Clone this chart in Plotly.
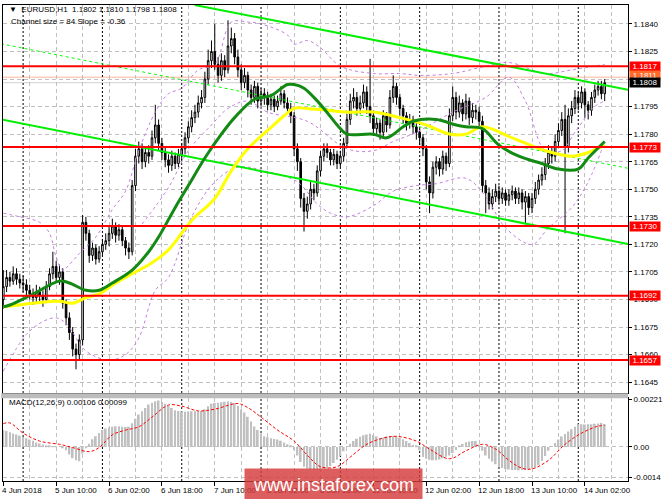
import plotly.graph_objects as go

# EURUSD H1, 4 Jun 2018 18:00 .. 14 Jun 2018 08:00, one entry per bar
opens = [1.1690, 1.1697, 1.1702, 1.1700, 1.1704, 1.1701, 1.1699, 1.1698, 1.1695, 1.1693,
         1.1691, 1.1694, 1.1692, 1.1690, 1.1697, 1.1704, 1.1708, 1.1702, 1.1705, 1.1688,
         1.1680, 1.1672, 1.1663, 1.1660, 1.1668, 1.1732, 1.1726, 1.1714, 1.1718, 1.1712,
         1.1716, 1.1720, 1.1722, 1.1726, 1.1730, 1.1725, 1.1728, 1.1722, 1.1718, 1.1716,
         1.1752, 1.1768, 1.1772, 1.1765, 1.1770, 1.1768, 1.1778, 1.1785, 1.1775, 1.1770,
         1.1766, 1.1763, 1.1768, 1.1764, 1.1769, 1.1772, 1.1778, 1.1784, 1.1789, 1.1792,
         1.1797, 1.1800, 1.1810, 1.1820, 1.1825, 1.1818, 1.1812, 1.1820, 1.1815, 1.1828,
         1.1832, 1.1822, 1.1815, 1.1808, 1.1812, 1.1804, 1.1800, 1.1806, 1.1798, 1.1802,
         1.1800, 1.1796, 1.1799, 1.1795, 1.1798, 1.1802, 1.1797, 1.1794, 1.1790, 1.1772,
         1.1765, 1.1745, 1.1738, 1.1742, 1.1750, 1.1748, 1.1760, 1.1768, 1.1772, 1.1770,
         1.1766, 1.1769, 1.1764, 1.1768, 1.1775, 1.1788, 1.1798, 1.1800, 1.1794, 1.1797,
         1.1803, 1.1795, 1.1790, 1.1783, 1.1786, 1.1781, 1.1790, 1.1785, 1.1800, 1.1806,
         1.1800, 1.1794, 1.1790, 1.1786, 1.1788, 1.1784, 1.1781, 1.1778, 1.1772, 1.1754,
         1.1748, 1.1762, 1.1765, 1.1761, 1.1768, 1.1764, 1.1790, 1.1800, 1.1792, 1.1797,
         1.1791, 1.1798, 1.1789, 1.1793, 1.1792, 1.1787, 1.1752, 1.1748, 1.1742, 1.1746,
         1.1749, 1.1745, 1.1748, 1.1744, 1.1747, 1.1749, 1.1745, 1.1748, 1.1743, 1.1746,
         1.1740, 1.1745, 1.1750, 1.1755, 1.1758, 1.1764, 1.1770, 1.1768, 1.1776, 1.1782,
         1.1788, 1.1773, 1.1790, 1.1794, 1.1800, 1.1797, 1.1803, 1.1796, 1.1793, 1.1800,
         1.1804, 1.1806, 1.1802]
highs = [1.1706, 1.1706, 1.1705, 1.1708, 1.1707, 1.1704, 1.1703, 1.1701, 1.1698, 1.1696,
         1.1698, 1.1697, 1.1695, 1.1700, 1.1707, 1.1716, 1.1711, 1.1709, 1.1707, 1.1690,
         1.1683, 1.1675, 1.1666, 1.1671, 1.1736, 1.1735, 1.1728, 1.1721, 1.1720, 1.1719,
         1.1723, 1.1726, 1.1730, 1.1734, 1.1732, 1.1731, 1.1730, 1.1724, 1.1721, 1.1755,
         1.1772, 1.1776, 1.1775, 1.1773, 1.1774, 1.1782, 1.1796, 1.1788, 1.1778, 1.1773,
         1.1769, 1.1771, 1.1770, 1.1772, 1.1775, 1.1781, 1.1787, 1.1793, 1.1796, 1.1801,
         1.1804, 1.1814, 1.1826, 1.1831, 1.1840, 1.1822, 1.1824, 1.1823, 1.1842, 1.1838,
         1.1835, 1.1826, 1.1818, 1.1816, 1.1814, 1.1807, 1.1809, 1.1808, 1.1805, 1.1805,
         1.1803, 1.1802, 1.1801, 1.1801, 1.1806, 1.1804, 1.1800, 1.1797, 1.1792, 1.1775,
         1.1767, 1.1748, 1.1746, 1.1754, 1.1753, 1.1763, 1.1771, 1.1775, 1.1775, 1.1772,
         1.1772, 1.1771, 1.1771, 1.1778, 1.1791, 1.1802, 1.1805, 1.1803, 1.1801, 1.1807,
         1.1806, 1.1821, 1.1793, 1.1789, 1.1788, 1.1793, 1.1792, 1.1804, 1.1812, 1.1808,
         1.1802, 1.1796, 1.1792, 1.1791, 1.1790, 1.1786, 1.1783, 1.1780, 1.1774, 1.1757,
         1.1765, 1.1768, 1.1767, 1.1771, 1.1770, 1.1794, 1.1806, 1.1803, 1.1801, 1.1799,
         1.1802, 1.1800, 1.1797, 1.1796, 1.1795, 1.1790, 1.1755, 1.1751, 1.1750, 1.1753,
         1.1752, 1.1751, 1.1750, 1.1750, 1.1752, 1.1751, 1.1751, 1.1750, 1.1749, 1.1748,
         1.1748, 1.1754, 1.1758, 1.1762, 1.1767, 1.1774, 1.1773, 1.1780, 1.1786, 1.1792,
         1.1796, 1.1794, 1.1798, 1.1804, 1.1803, 1.1806, 1.1805, 1.1798, 1.1803, 1.1807,
         1.1809, 1.1809, 1.1810]
lows = [1.1685, 1.1694, 1.1697, 1.1698, 1.1698, 1.1696, 1.1694, 1.1692, 1.1690, 1.1687,
        1.1688, 1.1689, 1.1686, 1.1688, 1.1695, 1.1701, 1.1699, 1.1698, 1.1685, 1.1676,
        1.1668, 1.1659, 1.1652, 1.1657, 1.1665, 1.1722, 1.1710, 1.1711, 1.1709, 1.1710,
        1.1714, 1.1717, 1.1719, 1.1723, 1.1721, 1.1722, 1.1719, 1.1714, 1.1712, 1.1714,
        1.1749, 1.1764, 1.1761, 1.1762, 1.1764, 1.1766, 1.1775, 1.1771, 1.1766, 1.1762,
        1.1759, 1.1760, 1.1761, 1.1762, 1.1766, 1.1769, 1.1775, 1.1781, 1.1786, 1.1789,
        1.1794, 1.1797, 1.1807, 1.1816, 1.1815, 1.1808, 1.1809, 1.1811, 1.1813, 1.1824,
        1.1818, 1.1811, 1.1804, 1.1805, 1.1800, 1.1796, 1.1797, 1.1794, 1.1795, 1.1796,
        1.1793, 1.1793, 1.1792, 1.1793, 1.1796, 1.1794, 1.1791, 1.1786, 1.1768, 1.1760,
        1.1740, 1.1727, 1.1734, 1.1739, 1.1744, 1.1746, 1.1757, 1.1765, 1.1767, 1.1763,
        1.1763, 1.1761, 1.1762, 1.1765, 1.1773, 1.1785, 1.1794, 1.1790, 1.1791, 1.1794,
        1.1791, 1.1786, 1.1779, 1.1780, 1.1777, 1.1778, 1.1781, 1.1783, 1.1797, 1.1796,
        1.1790, 1.1786, 1.1782, 1.1783, 1.1780, 1.1777, 1.1774, 1.1768, 1.1750, 1.1737,
        1.1745, 1.1758, 1.1757, 1.1758, 1.1760, 1.1762, 1.1787, 1.1788, 1.1789, 1.1787,
        1.1788, 1.1785, 1.1786, 1.1788, 1.1783, 1.1748, 1.1737, 1.1739, 1.1739, 1.1743,
        1.1742, 1.1742, 1.1741, 1.1741, 1.1744, 1.1742, 1.1742, 1.1739, 1.1731, 1.1736,
        1.1737, 1.1742, 1.1747, 1.1752, 1.1755, 1.1761, 1.1764, 1.1765, 1.1773, 1.1779,
        1.1726, 1.1770, 1.1786, 1.1791, 1.1793, 1.1794, 1.1789, 1.1788, 1.1790, 1.1797,
        1.1801, 1.1799, 1.1798]
closes = [1.1697, 1.1702, 1.1700, 1.1704, 1.1701, 1.1699, 1.1698, 1.1695, 1.1693, 1.1691,
          1.1694, 1.1692, 1.1690, 1.1697, 1.1704, 1.1708, 1.1702, 1.1705, 1.1688, 1.1680,
          1.1672, 1.1663, 1.1660, 1.1668, 1.1732, 1.1726, 1.1714, 1.1718, 1.1712, 1.1716,
          1.1720, 1.1722, 1.1726, 1.1730, 1.1725, 1.1728, 1.1722, 1.1718, 1.1716, 1.1752,
          1.1768, 1.1772, 1.1765, 1.1770, 1.1768, 1.1778, 1.1785, 1.1775, 1.1770, 1.1766,
          1.1763, 1.1768, 1.1764, 1.1769, 1.1772, 1.1778, 1.1784, 1.1789, 1.1792, 1.1797,
          1.1800, 1.1810, 1.1820, 1.1825, 1.1818, 1.1812, 1.1820, 1.1815, 1.1828, 1.1832,
          1.1822, 1.1815, 1.1808, 1.1812, 1.1804, 1.1800, 1.1806, 1.1798, 1.1802, 1.1800,
          1.1796, 1.1799, 1.1795, 1.1798, 1.1802, 1.1797, 1.1794, 1.1790, 1.1772, 1.1765,
          1.1745, 1.1738, 1.1742, 1.1750, 1.1748, 1.1760, 1.1768, 1.1772, 1.1770, 1.1766,
          1.1769, 1.1764, 1.1768, 1.1775, 1.1788, 1.1798, 1.1800, 1.1794, 1.1797, 1.1803,
          1.1795, 1.1790, 1.1783, 1.1786, 1.1781, 1.1790, 1.1785, 1.1800, 1.1806, 1.1800,
          1.1794, 1.1790, 1.1786, 1.1788, 1.1784, 1.1781, 1.1778, 1.1772, 1.1754, 1.1748,
          1.1762, 1.1765, 1.1761, 1.1768, 1.1764, 1.1790, 1.1800, 1.1792, 1.1797, 1.1791,
          1.1798, 1.1789, 1.1793, 1.1792, 1.1787, 1.1752, 1.1748, 1.1742, 1.1746, 1.1749,
          1.1745, 1.1748, 1.1744, 1.1747, 1.1749, 1.1745, 1.1748, 1.1743, 1.1746, 1.1740,
          1.1745, 1.1750, 1.1755, 1.1758, 1.1764, 1.1770, 1.1768, 1.1776, 1.1782, 1.1788,
          1.1773, 1.1790, 1.1794, 1.1800, 1.1797, 1.1803, 1.1796, 1.1793, 1.1800, 1.1804,
          1.1806, 1.1802, 1.1808]
bars = list(range(len(closes)))

# time axis labels (bar index -> label) and day separators
tick_bars = [0, 16, 32, 48, 64, 80, 96, 112, 128, 144, 160, 176]
tick_labels = ["4 Jun 2018", "5 Jun 10:00", "6 Jun 02:00", "6 Jun 18:00", "7 Jun 10:00",
               "8 Jun 02:00", "8 Jun 18:00", "11 Jun 10:00", "12 Jun 02:00",
               "12 Jun 18:00", "13 Jun 10:00", "14 Jun 02:00"]
day_starts = [6, 30, 54, 78, 102, 126, 150, 174]

# moving averages (sampled)
green_bars = [0, 2, 9, 17, 20, 25, 29, 33, 39, 44, 47, 52, 56, 61, 66, 70, 76, 81, 86, 88,
              91, 94, 97, 102, 104, 112, 116, 121, 124, 131, 137, 140, 145, 150, 156, 163,
              168, 174, 177, 182]
green_ma = [1.1686, 1.1687, 1.1693, 1.1700, 1.1699, 1.1695, 1.1695, 1.1699, 1.1706, 1.1716,
            1.1724, 1.1740, 1.1752, 1.1767, 1.1780, 1.1789, 1.1799, 1.1801, 1.1807, 1.1807,
            1.1805, 1.1800, 1.1794, 1.1783, 1.1780, 1.1780, 1.1778, 1.1784, 1.1787, 1.1788,
            1.1785, 1.1784, 1.1783, 1.1774, 1.1768, 1.1764, 1.1761, 1.1761, 1.1767, 1.1776]
yellow_bars = [0, 9, 17, 21, 25, 29, 34, 39, 45, 50, 57, 64, 69, 74, 80, 85, 88, 92, 98,
               104, 112, 120, 128, 135, 140, 145, 154, 164, 172, 177, 182]
yellow_ma = [1.1686, 1.1688, 1.1689, 1.1688, 1.1691, 1.1693, 1.1699, 1.1704, 1.1710, 1.1717,
             1.1733, 1.1745, 1.1760, 1.1772, 1.1782, 1.1790, 1.1794, 1.1794, 1.1793, 1.1792,
             1.1792, 1.1789, 1.1785, 1.1780, 1.1780, 1.1784, 1.1778, 1.1771, 1.1768, 1.1770,
             1.1774]

# dotted purple bands (sampled)
band_up_bars = [0, 5, 11, 14, 16, 18, 20, 23, 28, 33, 37, 41, 46, 50, 54, 59, 64, 69, 74,
                78, 86, 88, 92, 96, 102, 112, 120, 126, 136, 146, 153, 164, 172, 182]
band_up = [1.1737, 1.1735, 1.1732, 1.1726, 1.1713, 1.1706, 1.1709, 1.1715, 1.1724, 1.1739,
           1.1749, 1.1771, 1.1792, 1.1802, 1.1805, 1.1815, 1.1818, 1.1841, 1.1841, 1.1840,
           1.1834, 1.1829, 1.1831, 1.1827, 1.1817, 1.1813, 1.1813, 1.1812, 1.1813, 1.1817,
           1.1819, 1.1813, 1.1815, 1.1818]
band_mid_bars = [42, 50, 56, 63, 68, 74, 80, 92, 104, 112, 118, 125, 136, 146, 153, 158,
                 164, 169, 173, 179, 182]
band_mid = [1.1731, 1.1751, 1.1771, 1.1785, 1.1794, 1.1798, 1.1792, 1.1787, 1.1772, 1.1771,
            1.1776, 1.1781, 1.1792, 1.1800, 1.1811, 1.1798, 1.1771, 1.1771, 1.1781, 1.1795,
            1.1798]
band_low_bars = [0, 7, 12, 16, 19, 25, 32, 37, 41, 46, 50, 57, 64, 71, 79, 89, 95, 99, 104,
                 112, 118, 125, 131, 140, 146, 152, 160, 165, 172, 177, 182]
band_low = [1.1651, 1.1671, 1.1678, 1.1680, 1.1677, 1.1662, 1.1657, 1.1660, 1.1669, 1.1695,
            1.1702, 1.1735, 1.1754, 1.1762, 1.1760, 1.1754, 1.1742, 1.1737, 1.1735, 1.1741,
            1.1749, 1.1752, 1.1753, 1.1756, 1.1746, 1.1729, 1.1720, 1.1729, 1.1740, 1.1754,
            1.1776]

# regression channel (end points)
chan_up_bars = [57.9, 189.1]
chan_up = [1.18503, 1.18042]
chan_low_bars = [-0.7, 189.1]
chan_low = [1.17880, 1.17202]
chan_mid_bars = [-0.7, 189.1]
chan_mid = [1.18292, 1.17614]

levels = [1.1817, 1.1773, 1.1730, 1.1692, 1.1657]
ask_price = 1.1811
bid_price = 1.1808
price_ticks = [1.1645, 1.1660, 1.1675, 1.1690, 1.1705, 1.1720, 1.1735, 1.1750, 1.1765,
               1.1780, 1.1795, 1.1810, 1.1825, 1.1840]

# MACD(12,26,9), units of 0.00001
macd_unit = 1e-5
macd_hist = [78, 74, 68, 62, 57, 52, 46, 40, 34, 28, 21, 16, 11, 7, 4, 2, 1, 0, -3, -15,
             -35, -52, -62, -67, -30, -5, 15, 35, 50, 65, 78, 85, 90, 94, 96, 96, 94, 92, 93,
             110, 130, 150, 165, 180, 197, 205, 212, 215, 208, 200, 190, 180, 170, 166, 164,
             163, 164, 165, 165, 164, 166, 175, 188, 200, 203, 205, 207, 209, 210, 208, 203,
             190, 175, 160, 140, 118, 95, 78, 62, 50, 45, 40, 37, 34, 28, 20, 12, 5, -15, -40,
             -70, -92, -100, -106, -108, -106, -104, -101, -99, -88, -75, -60, -42, -20, 0,
             15, 27, 38, 47, 54, 58, 61, 55, 48, 41, 44, 48, 51, 52, 48, 42, 35, 27, 18, 10,
             4, -15, -47, -55, -60, -62, -62, -58, -52, -46, -40, -28, -14, 4, 14, 22, 25, 27,
             27, 10, -18, -40, -55, -68, -80, -92, -98, -102, -105, -107, -107, -108, -107,
             -107, -104, -100, -95, -84, -65, -42, -18, 0, 18, 34, 48, 60, 71, 82, 94, 105,
             105, 104, 105, 105, 107, 109, 111, 106]
signal_bars = [0, 2, 6, 11, 17, 21, 26, 29, 33, 37, 41, 45, 50, 54, 59, 64, 71, 74, 78, 83,
               88, 93, 96, 101, 105, 110, 115, 119, 125, 129, 135, 140, 145, 149, 153, 157,
               160, 165, 170, 175, 180, 182]
signal = [108, 111, 64, 27, 12, -3, -22, -3, 56, 78, 93, 138, 194, 189, 167, 175, 201, 182,
          138, 78, 27, -55, -92, -92, -47, 12, 41, 49, 27, -10, -55, -18, 12, -10, -62, -99,
          -102, -62, 12, 64, 96, 99]

FONT = "Liberation Sans"
GRID = "#c0c0c0"

fig = go.Figure()

fig.add_trace(go.Candlestick(
    x=bars, open=opens, high=highs, low=lows, close=closes,
    increasing=dict(line=dict(color="black", width=1), fillcolor="white"),
    decreasing=dict(line=dict(color="black", width=1), fillcolor="black"),
    whiskerwidth=0, xaxis="x", yaxis="y", hoverinfo="skip"))

fig.add_trace(go.Scatter(x=band_up_bars, y=band_up, mode="lines", line=dict(color="#c47fe0", width=1, dash="dot", shape="spline")))
fig.add_trace(go.Scatter(x=band_mid_bars, y=band_mid, mode="lines", line=dict(color="#c47fe0", width=1, dash="dot", shape="spline")))
fig.add_trace(go.Scatter(x=band_low_bars, y=band_low, mode="lines", line=dict(color="#c47fe0", width=1, dash="dot", shape="spline")))

fig.add_trace(go.Scatter(x=chan_mid_bars, y=chan_mid, mode="lines", line=dict(color="#00ff00", width=1, dash="dot")))
fig.add_trace(go.Scatter(x=chan_up_bars, y=chan_up, mode="lines", line=dict(color="#00ee00", width=2)))
fig.add_trace(go.Scatter(x=chan_low_bars, y=chan_low, mode="lines", line=dict(color="#00ee00", width=2)))

fig.add_trace(go.Scatter(x=yellow_bars, y=yellow_ma, mode="lines", line=dict(color="#ffff00", width=3, shape="spline")))
fig.add_trace(go.Scatter(x=green_bars, y=green_ma, mode="lines", line=dict(color="#138a13", width=3, shape="spline")))

# MACD pane
fig.add_trace(go.Bar(x=bars, y=[v * macd_unit for v in macd_hist], marker=dict(color="#c0c0c0", line=dict(width=0)),
                     width=0.55, xaxis="x2", yaxis="y2"))
fig.add_trace(go.Scatter(x=signal_bars, y=[v * macd_unit for v in signal], mode="lines",
                         line=dict(color="#ff0000", width=1, dash="3px,2px", shape="spline"),
                         xaxis="x2", yaxis="y2"))

shapes = []
for lv in levels:
    shapes.append(dict(type="line", xref="paper", x0=0, x1=1, yref="y", y0=lv, y1=lv,
                       line=dict(color="#ff0000", width=2), layer="above"))
shapes.append(dict(type="line", xref="paper", x0=0, x1=1, yref="y", y0=ask_price, y1=ask_price,
                   line=dict(color="#ffb49a", width=1), layer="below"))
shapes.append(dict(type="line", xref="paper", x0=0, x1=1, yref="y", y0=bid_price, y1=bid_price,
                   line=dict(color="#d0d0d0", width=1), layer="below"))
for d in day_starts:
    shapes.append(dict(type="line", xref="x", x0=d, x1=d, yref="paper", y0=0, y1=1,
                       line=dict(color="black", width=1, dash="2px,2px"), layer="below"))
# pane separator
shapes.append(dict(type="rect", xref="paper", x0=-0.003, x1=1.0, yref="paper", y0=0.1736, y1=0.1841,
                   fillcolor="#bdbdbd", line=dict(width=0), layer="above"))

annotations = []
for lv in levels:
    annotations.append(dict(xref="paper", x=1, xanchor="left", xshift=1, yref="y", y=lv,
                            text=f"{lv:.4f}", showarrow=False, bgcolor="#ff0000",
                            font=dict(family=FONT, size=8, color="white"),
                            width=30, height=9, borderpad=0))
annotations.append(dict(xref="paper", x=1, xanchor="left", xshift=1, yref="y", y=ask_price,
                        yshift=2, text=f"{ask_price:.4f}", showarrow=False, bgcolor="#ff6a2a",
                        font=dict(family=FONT, size=8, color="white"), width=30, height=9, borderpad=0))
annotations.append(dict(xref="paper", x=1, xanchor="left", xshift=1, yref="y", y=bid_price,
                        text=f"{bid_price:.4f}", showarrow=False, bgcolor="black",
                        font=dict(family=FONT, size=8, color="white"), width=30, height=9, borderpad=0))
annotations.append(dict(xref="paper", x=0.006, xanchor="left", yref="paper", y=0.9895, yanchor="middle",
                        text="▼  EURUSD,H1  1.1802 1.1810 1.1798 1.1808", showarrow=False,
                        font=dict(family=FONT, size=8, color="black")))
annotations.append(dict(xref="paper", x=0.009, xanchor="left", yref="paper", y=0.9644, yanchor="middle",
                        text="Channel size = 84 Slope = -0.36", showarrow=False,
                        font=dict(family=FONT, size=8, color="black")))
annotations.append(dict(xref="paper", x=0.006, xanchor="left", yref="paper", y=0.1653, yanchor="middle",
                        text="MACD(12,26,9) 0.00106 0.00099", showarrow=False,
                        font=dict(family=FONT, size=8, color="black")))
for b, lab in zip(tick_bars, tick_labels):
    annotations.append(dict(xref="x2", x=b, xanchor="left", xshift=-3, yref="paper", y=0, yanchor="top",
                            yshift=-3, text=lab, showarrow=False,
                            font=dict(family=FONT, size=8, color="black")))
# watermark
annotations.append(dict(xref="paper", x=0.3857, xanchor="left", yref="paper", y=0.0272, yanchor="top",
                        text="www.instaforex.com", showarrow=False, bgcolor="rgba(214,58,58,0.82)",
                        width=177, height=31, borderpad=0, align="center",
                        font=dict(family=FONT, size=18, color="white")))

xcommon = dict(range=[-0.09, 189.05], tickmode="array", tickvals=tick_bars, showgrid=True,
               gridcolor=GRID, griddash="4px,3px", gridwidth=1, zeroline=False,
               showline=True, linecolor="black", linewidth=1, mirror=True,
               minor=dict(tickmode="linear", tick0=0, dtick=8, showgrid=True, gridcolor=GRID,
                          griddash="4px,3px", ticks=""))

fig.update_layout(
    width=665, height=499,
    margin=dict(l=2, r=33, t=3, b=18),
    paper_bgcolor="white", plot_bgcolor="white",
    showlegend=False, hovermode=False, bargap=0.3,
    font=dict(family=FONT, size=8, color="black"),
    xaxis=dict(**xcommon, domain=[0, 1], anchor="y", showticklabels=False, ticks="",
               rangeslider=dict(visible=False)),
    yaxis=dict(domain=[0.1841, 1], anchor="x", side="right", range=[1.16389, 1.18503],
               tickmode="array", tickvals=price_ticks, tickformat=".4f", ticks="outside",
               ticklen=3, tickcolor="black", showgrid=True, gridcolor=GRID, griddash="4px,3px",
               zeroline=False, showline=True, linecolor="black", linewidth=1, mirror=True,
               tickfont=dict(family=FONT, size=8)),
    xaxis2=dict(**xcommon, domain=[0, 1], anchor="y2", matches="x", showticklabels=False,
                ticks="outside", ticklen=4, tickcolor="black"),
    yaxis2=dict(domain=[0, 0.1736], anchor="x2", side="right", range=[-0.00158, 0.00225],
                tickmode="array", tickvals=[0.00221, 0.0, -0.0014],
                ticktext=["0.00221", "0.00", "-0.0014"], ticks="outside", ticklen=3,
                tickcolor="black", showgrid=True, gridcolor=GRID, griddash="4px,3px",
                zeroline=False, showline=True, linecolor="black", linewidth=1, mirror=True,
                tickfont=dict(family=FONT, size=8)),
    shapes=shapes,
    annotations=annotations,
)

# the page body has a default 8px margin; drop it so the figure fills the window
fig.write_html("out.html", config={"displayModeBar": False},
               post_script="document.body.style.margin='0px';")
